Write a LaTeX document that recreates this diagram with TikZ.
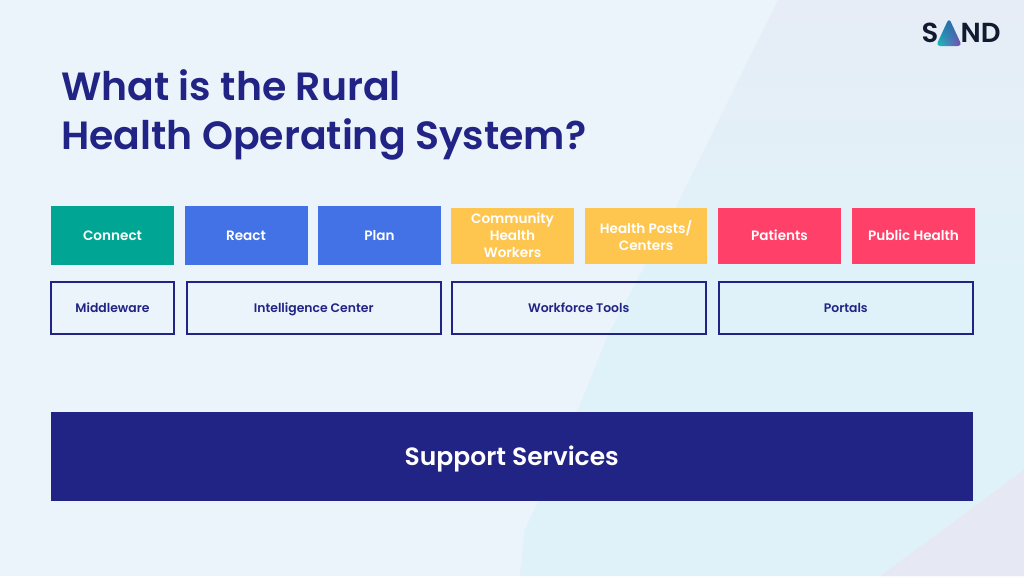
\documentclass[tikz,border=0pt]{standalone}
\usepackage{fontspec}
\setmainfont{Poppins}[UprightFont=*-SemiBold,BoldFont=*-SemiBold]
\usetikzlibrary{positioning,shadings}
\definecolor{bgbase}{HTML}{EBF3FB}
\definecolor{bgmid}{HTML}{E0F2F9}
\definecolor{bgtop}{HTML}{E6EDF6}
\definecolor{bglav}{HTML}{E6E8F4}
\definecolor{navy}{HTML}{212385}
\definecolor{tealb}{HTML}{00A693}
\definecolor{blueb}{HTML}{4272E6}
\definecolor{yellowb}{HTML}{FEC64E}
\definecolor{pinkb}{HTML}{FF4068}
\definecolor{logoink}{HTML}{111A2E}
\definecolor{logoa}{HTML}{1C6FA8}
\definecolor{logob}{HTML}{0FC9C0}
\definecolor{logoc}{HTML}{8A3FB0}
\tikzset{
  px/.style={x=1pt,y=-1pt},
  solidbase/.style={inner sep=0pt,outer sep=0pt,anchor=north west,align=center,text=white,font=\fontsize{13.6}{17}\selectfont},
  solidbox/.style={solidbase,minimum height=#1,text height=9.6pt,text depth=0pt},
  multibox/.style={solidbase,minimum height=#1},
  outlinebox/.style={draw=navy,line width=2pt,fill=none,inner sep=0pt,outer sep=0pt,minimum height=51.5pt,anchor=north west,align=center,text=navy,text height=8.8pt,text depth=0pt,font=\fontsize{12.4}{15}\selectfont},
  titletext/.style={anchor=north west,inner sep=0pt,align=left,text=navy,font=\fontsize{39.4}{49}\selectfont\bfseries},
  logotext/.style={inner sep=0pt,text=logoink,font=\fontsize{27.5}{27}\selectfont\bfseries}
}
\begin{document}
\begin{tikzpicture}[px]
\useasboundingbox (0,0) rectangle (1024,576);
% background
\fill[bgbase] (0,0) rectangle (1024,576);
\shade[top color=bgtop,bottom color=bgmid,middle color=bgmid] (778,0) -- (1024,0) -- (1024,576) -- (520,576) -- (525,530) -- (577,412) -- (608,335) -- (677,205) -- cycle;
\fill[bglav] (880,576) -- (1024,470) -- (1024,576) -- cycle;
% logo
\node[logotext,anchor=center] (logoS) at (930,32.5) {S};
\node[logotext,anchor=center] (logoND) at (980.5,32.5) {ND};
\shade[upper left=logoa,upper right=logoa,lower left=logob,lower right=logoc,rounded corners=4pt] (936,46) -- (949,18) -- (962,46) -- cycle;
% title
\node[titletext] (title) at (61,69) {What is the Rural\\Health Operating System?};
% top row
\node[solidbox=59pt,fill=tealb,minimum width=123pt] (connect) at (51,206) {Connect};
\node[solidbox=59pt,fill=blueb,minimum width=123pt] (react) at (184.5,206) {React};
\node[solidbox=59pt,fill=blueb,minimum width=123pt] (plan) at (318,206) {Plan};
\node[multibox=56pt,fill=yellowb,minimum width=123pt] (chw) at (451,207.5) {Community\\Health\\Workers};
\node[multibox=56pt,fill=yellowb,minimum width=122pt] (posts) at (585,207.5) {Health Posts/\\Centers};
\node[solidbox=56pt,fill=pinkb,minimum width=123pt] (patients) at (718,207.5) {Patients};
\node[solidbox=56pt,fill=pinkb,minimum width=123pt] (public) at (852,207.5) {Public Health};
% second row
\node[outlinebox,minimum width=123pt] (middleware) at (51,282) {Middleware};
\node[outlinebox,minimum width=254pt] (intel) at (186.7,282) {Intelligence Center};
\node[outlinebox,minimum width=254pt] (workforce) at (451.7,282) {Workforce Tools};
\node[outlinebox,minimum width=253.5pt] (portals) at (719,282) {Portals};
% support
\node[solidbase,minimum height=89pt,fill=navy,minimum width=921.5pt,text height=17.5pt,text depth=0pt,font=\fontsize{25}{28}\selectfont] (support) at (51,412) {Support Services};
\end{tikzpicture}
\end{document}
